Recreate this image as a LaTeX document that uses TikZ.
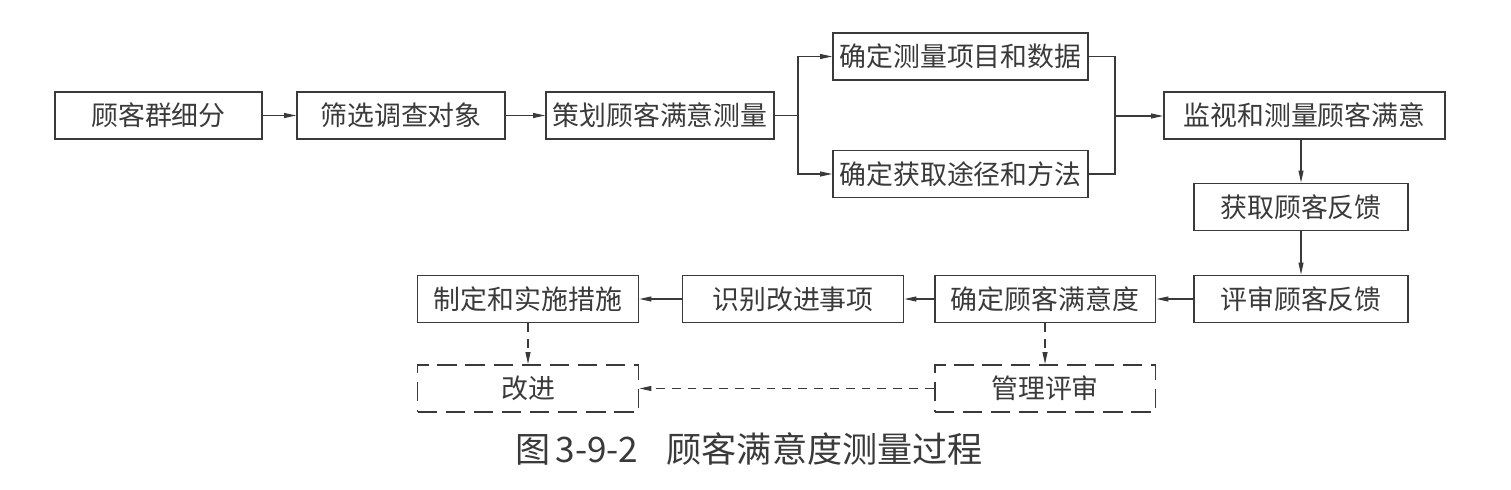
\documentclass[tikz,border=0pt]{standalone}
\usepackage{fontspec}
\usepackage{xcolor}
\usetikzlibrary{arrows.meta}
\newfontfamily\cjk{Noto Sans CJK SC}
\definecolor{ink}{HTML}{3A3A3A}
\tikzset{
  box/.style={draw=ink, line width=1.1pt, minimum height=0.94cm, inner sep=0pt,
    text=ink, font=\cjk\fontsize{15.3}{18}\selectfont},
  dbox/.style={box, dash pattern=on 11pt off 5pt},
  link/.style={draw=ink, line width=0.6pt},
  arr/.style={link, -{Triangle[length=0.24cm,width=0.1cm]}},
  darr/.style={arr, dash pattern=on 5pt off 4pt}
}
\begin{document}
\begin{tikzpicture}[x=0.02cm, y=-0.02cm]
		\useasboundingbox (0,0) rectangle (1511,490);
		% first row
		\node[box, minimum width=4.14cm] (seg) at (158.5,115.5) {顾客群细分};
		\node[box, minimum width=4.16cm] (sel) at (401,115.5) {筛选调查对象};
		\node[box, minimum width=4.56cm] (plan) at (660,115.5) {策划顾客满意测量};
		\node[box, minimum width=5.10cm] (item) at (960.5,56.5) {确定测量项目和数据};
		\node[box, minimum width=5.10cm] (way) at (960.5,174) {确定获取途径和方法};
		\node[box, minimum width=5.62cm] (mon) at (1304.5,115.5) {监视和测量顾客满意};
		\node[box, minimum width=4.28cm] (get) at (1301,207) {获取顾客反馈};
		% second row
		\node[box, minimum width=4.28cm] (rev) at (1301,299) {评审顾客反馈};
		\node[box, minimum width=4.42cm] (sat) at (1045,299) {确定顾客满意度};
		\node[box, minimum width=4.42cm] (idf) at (793,299) {识别改进事项};
		\node[box, minimum width=4.42cm] (act) at (528,299) {制定和实施措施};
		\node[dbox, minimum width=4.42cm] (imp) at (528,388.5) {改进};
		\node[dbox, minimum width=4.42cm] (mgt) at (1045,388.5) {管理评审};
		\node[text=ink, font=\cjk\fontsize{20}{24}\selectfont] (cap) at (749,449) {图\hspace{0.15em}3-9-2\hspace{0.8em}顾客满意度测量过程};
		\coordinate (fork) at (798,115.5);
		\coordinate (join) at (1115,116);
		\draw[arr] (seg) -- (sel);
		\draw[arr] (sel) -- (plan);
		\draw[link] (plan) -- (fork);
		\draw[arr] (fork) |- (item);
		\draw[arr] (fork) |- (way);
		\draw[link] (item) -| (join);
		\draw[link] (way) -| (join);
		\draw[arr] (join) -- (join -| mon.west);
		\draw[arr] (get.north |- mon.south) -- (get.north);
		\draw[arr] (get) -- (rev);
		\draw[arr] (rev) -- (sat);
		\draw[arr] (sat) -- (idf);
		\draw[arr] (idf) -- (act);
		\draw[darr] (act) -- (imp);
		\draw[darr] (sat) -- (mgt);
		\draw[darr] (mgt) -- (imp);
	\end{tikzpicture}
\end{document}
